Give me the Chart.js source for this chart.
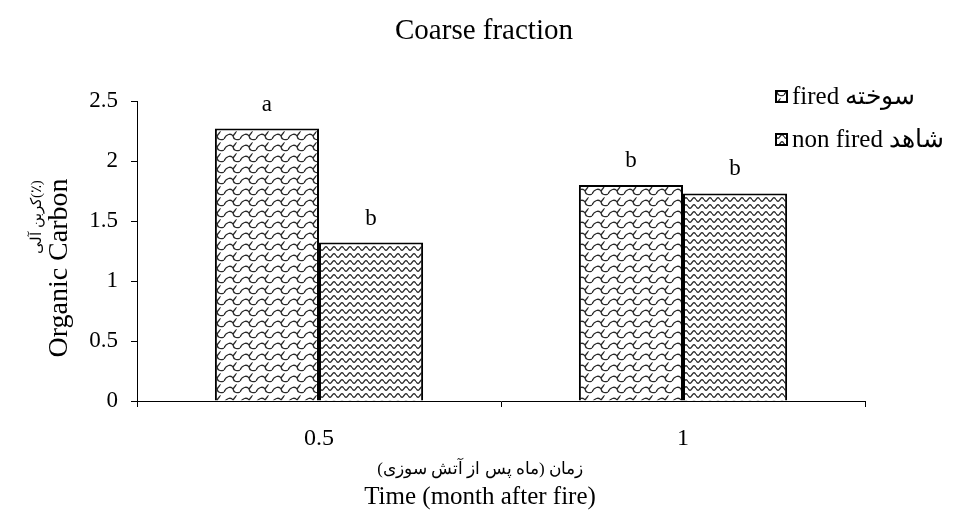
<!DOCTYPE html>
<html>
<head>
<meta charset="utf-8">
<script src="https://cdn.jsdelivr.net/npm/chart.js@4/dist/chart.umd.min.js"></script>
<style>
html,body{margin:0;padding:0;background:#fff;}
#wrap{width:961px;height:519px;}
</style>
</head>
<body>
<div id="wrap"><canvas id="c" width="961" height="519"></canvas></div>
<script>
const categories = ['0.5', '1'];
const firedValues = [2.27, 1.80];
const nonFiredValues = [1.32, 1.73];
const firedLetters = ['a', 'b'];
const nonFiredLetters = ['b', 'b'];
const seriesLabels = ['fired سوخته', 'non fired شاهد'];
const chartTitle = 'Coarse fraction';
const xTitleLines = ['زمان (ماه پس از آتش سوزی)', 'Time (month after fire)'];
const yTitleLines = ['(٪)کربن آلی', 'Organic Carbon'];

const SERIF = '"Liberation Serif", "DejaVu Serif", serif';

function makeFishPattern(ctx) {
  const c = document.createElement('canvas');
  c.width = 16; c.height = 11;
  const g = c.getContext('2d');
  g.fillStyle = '#fff'; g.fillRect(0, 0, 16, 11);
  g.strokeStyle = '#2a2a2a'; g.lineWidth = 1.3;
  g.beginPath();
  g.moveTo(0, 7);
  g.bezierCurveTo(2, 2, 7, 1, 9, 4);
  g.quadraticCurveTo(10, 9, 16, 7);
  g.stroke();
  g.beginPath();
  g.moveTo(9, 4);
  g.lineTo(12, 0);
  g.stroke();
  g.beginPath();
  g.moveTo(12, 11);
  g.lineTo(12.5, 10.3);
  g.stroke();
  return ctx.createPattern(c, 'repeat');
}
function makeWavePattern(ctx) {
  const c = document.createElement('canvas');
  c.width = 8; c.height = 7;
  const g = c.getContext('2d');
  g.fillStyle = '#fff'; g.fillRect(0, 0, 8, 7);
  g.strokeStyle = '#2a2a2a'; g.lineWidth = 1.3;
  g.beginPath();
  for (let x = 0; x <= 8; x += 0.5) {
    const y = 3.5 + 1.8 * Math.sin(x / 8 * Math.PI * 2);
    if (x === 0) g.moveTo(x, y); else g.lineTo(x, y);
  }
  g.stroke();
  return ctx.createPattern(c, 'repeat');
}

const canvas = document.getElementById('c');
const ctx0 = canvas.getContext('2d');
const fishPat = makeFishPattern(ctx0);
const wavePat = makeWavePattern(ctx0);

const decor = {
  id: 'decor',
  afterDraw(chart) {
    const ctx = chart.ctx;
    ctx.save();
    ctx.fillStyle = '#000';
    // title
    ctx.font = '29px ' + SERIF;
    ctx.textAlign = 'center'; ctx.textBaseline = 'middle';
    ctx.fillText(chartTitle, 484, 31);
    // letters
    ctx.font = '23px ' + SERIF;
    const letterSets = [firedLetters, nonFiredLetters];
    chart.data.datasets.forEach((ds, di) => {
      const meta = chart.getDatasetMeta(di);
      meta.data.forEach((bar, i) => {
        ctx.fillText(letterSets[di][i], bar.x, bar.y - 24);
      });
    });
    // x title
    ctx.font = '17px ' + SERIF;
    ctx.direction = 'rtl';
    ctx.fillText(xTitleLines[0], 480, 470);
    ctx.direction = 'ltr';
    ctx.font = '25px ' + SERIF;
    ctx.fillText(xTitleLines[1], 480, 497);
    // y title
    ctx.save();
    ctx.translate(37, 217);
    ctx.rotate(-Math.PI / 2);
    ctx.direction = 'rtl';
    ctx.font = '15px ' + SERIF;
    ctx.fillText(yTitleLines[0], 0, 0);
    ctx.restore();
    ctx.save();
    ctx.translate(60, 268);
    ctx.rotate(-Math.PI / 2);
    ctx.font = '28px ' + SERIF;
    ctx.fillText(yTitleLines[1], 0, 0);
    ctx.restore();
    // legend
    const pats = [fishPat, wavePat];
    const ly = [97, 140];
    ctx.font = '25px ' + SERIF;
    ctx.textAlign = 'left';
    for (let i = 0; i < 2; i++) {
      ctx.fillStyle = pats[i];
      ctx.fillRect(776, ly[i] - 6, 11, 11);
      ctx.strokeStyle = '#000'; ctx.lineWidth = 2;
      ctx.strokeRect(776, ly[i] - 6, 11, 11);
      ctx.fillStyle = '#000';
      ctx.fillText(chart.data.datasets[i].label, 792, ly[i]);
    }
    ctx.restore();
  }
};

new Chart(canvas, {
  type: 'bar',
  data: {
    labels: categories,
    datasets: [
      { label: seriesLabels[0], data: firedValues, backgroundColor: fishPat, borderColor: '#000', borderWidth: 2 },
      { label: seriesLabels[1], data: nonFiredValues, backgroundColor: wavePat, borderColor: '#000', borderWidth: 2 }
    ]
  },
  options: {
    responsive: false,
    animation: false,
    layout: { padding: { top: 101, right: 96, left: 0, bottom: 0 } },
    plugins: { legend: { display: false }, tooltip: { enabled: false }, title: { display: false } },
    datasets: { bar: { categoryPercentage: 0.572, barPercentage: 1.0 } },
    scales: {
      x: {
        offset: true,
        grid: { display: true, drawOnChartArea: false, offset: true, color: '#000', tickLength: 6, tickWidth: 1 },
        border: { color: '#000', width: 1 },
        ticks: { color: '#000', font: { family: SERIF, size: 24 }, padding: 17 },
        afterFit(s) { s.height = 118; }
      },
      y: {
        min: 0, max: 2.5,
        ticks: { stepSize: 0.5, color: '#000', font: { family: SERIF, size: 23 }, padding: 13, callback: v => String(v) },
        grid: { display: true, drawOnChartArea: false, color: '#000', tickLength: 6 },
        border: { color: '#000', width: 1 },
        afterFit(s) { s.width = 137; }
      }
    }
  },
  plugins: [decor]
});
</script>
</body>
</html>
